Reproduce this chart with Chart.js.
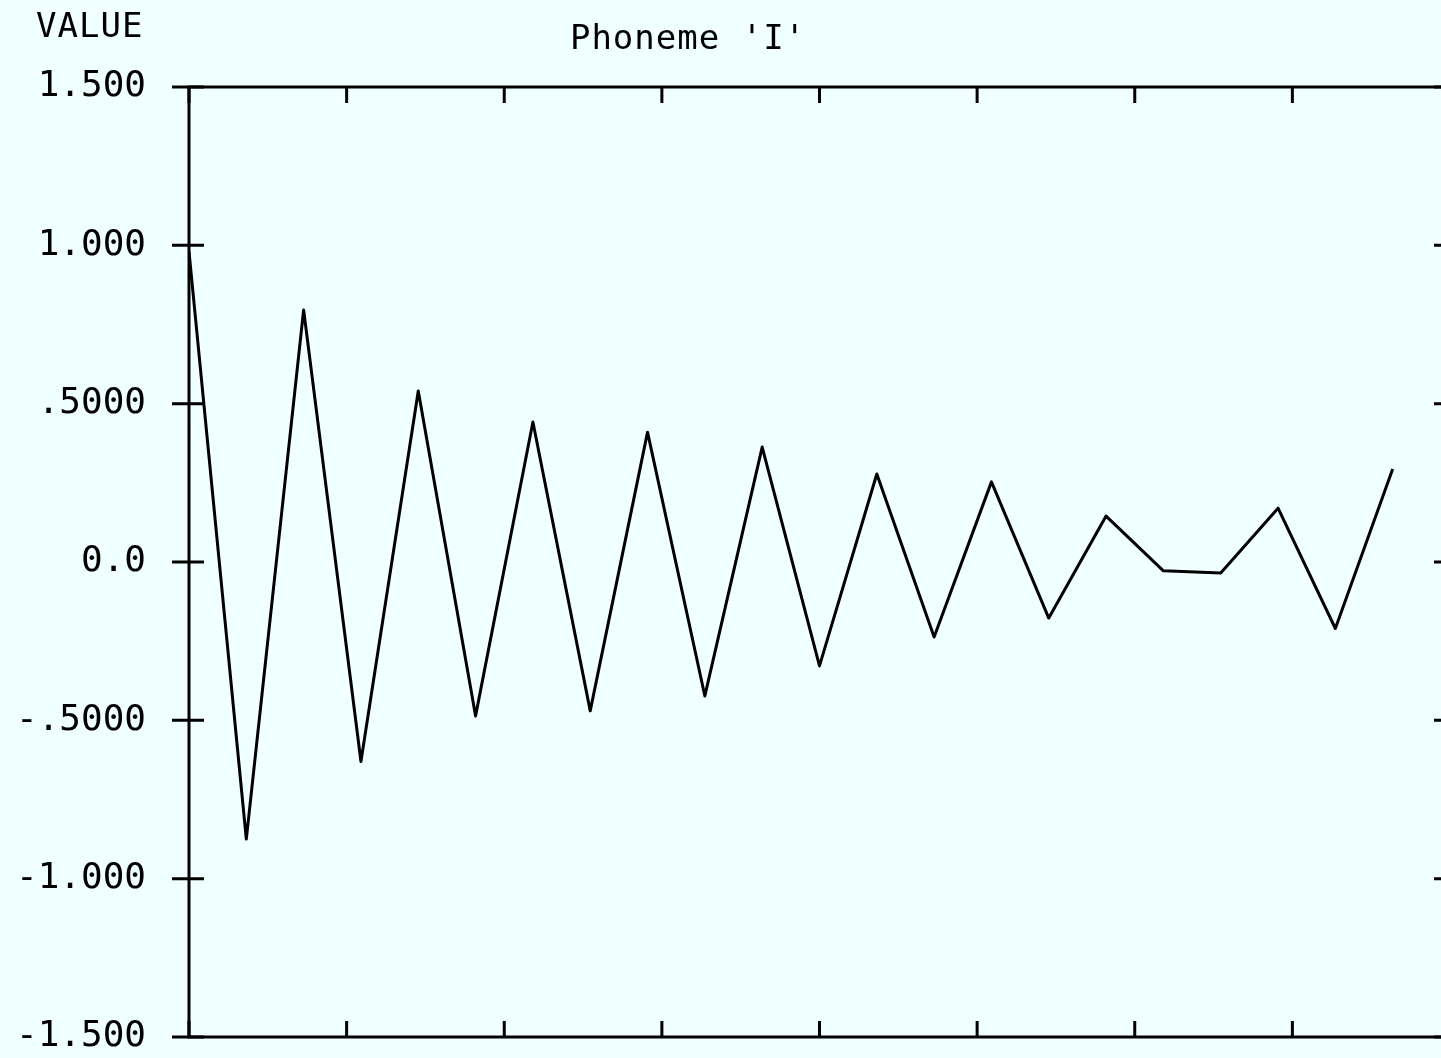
<!DOCTYPE html>
<html>
<head>
<meta charset="utf-8">
<script src="https://cdn.jsdelivr.net/npm/chart.js@4/dist/chart.umd.min.js"></script>
<style>
  html, body { margin: 0; padding: 0; background: #f0ffff; overflow: hidden; }
  #wrap { position: relative; width: 1480px; height: 1058px; }
  canvas { display: block; }
</style>
</head>
<body>
<div id="wrap"><canvas id="c" width="1480" height="1058" style="width:1480px;height:1058px"></canvas></div>
<script>
// ---- data ----
const chartTitle = "Phoneme 'I'";
const yAxisTitle = "VALUE";
const sampleIndex = [0,1,2,3,4,5,6,7,8,9,10,11,12,13,14,15,16,17,18,19,20,21];
const sampleValue = [0.98,-0.875,0.796,-0.63,0.54,-0.486,0.442,-0.47,0.41,-0.423,0.363,
                     -0.328,0.278,-0.237,0.253,-0.177,0.145,-0.028,-0.035,0.17,-0.21,0.294];
const xTickValues = [0, 2.75, 5.5, 8.25, 11, 13.75, 16.5, 19.25, 22];
const yTickValues = [-1.5, -1.0, -0.5, 0.0, 0.5, 1.0, 1.5];
const yTickLabels = ["-1.500", "-1.000", "-.5000", "0.0", ".5000", "1.000", "1.500"];

const FONT = "'DejaVu Sans Mono', 'Liberation Mono', monospace";

const framePlugin = {
  id: 'frame',
  afterDraw(chart) {
    const ctx = chart.ctx;
    const a = chart.chartArea;
    const xs = chart.scales.x, ys = chart.scales.y;
    ctx.save();
    ctx.strokeStyle = '#000';
    ctx.lineWidth = 3;
    ctx.beginPath();
    ctx.rect(a.left, a.top, a.right - a.left, a.bottom - a.top);
    ctx.stroke();
    ctx.beginPath();
    xTickValues.forEach(v => {
      const px = xs.getPixelForValue(v);
      ctx.moveTo(px, a.top); ctx.lineTo(px, a.top + 16);
      ctx.moveTo(px, a.bottom); ctx.lineTo(px, a.bottom - 16);
    });
    yTickValues.forEach(v => {
      const py = ys.getPixelForValue(v);
      ctx.moveTo(a.left - 17, py); ctx.lineTo(a.left + 15, py);
      ctx.moveTo(a.right - 16, py); ctx.lineTo(a.right + 16, py);
    });
    ctx.stroke();
    // texts
    ctx.fillStyle = '#000';
    ctx.font = '34px ' + FONT;
    try { ctx.letterSpacing = '1px'; } catch (e) {}
    ctx.textBaseline = 'alphabetic';
    ctx.textAlign = 'left';
    ctx.fillText(yAxisTitle, 36, 37);
    ctx.textAlign = 'center';
    ctx.fillText(chartTitle, 688, 49);
    ctx.restore();
  }
};

new Chart(document.getElementById('c'), {
  type: 'line',
  data: {
    datasets: [{
      data: sampleIndex.map((x, i) => ({ x: x, y: sampleValue[i] })),
      borderColor: '#000',
      borderWidth: 3,
      borderJoinStyle: 'round',
      pointRadius: 0,
      tension: 0,
      fill: false
    }]
  },
  options: {
    responsive: false,
    animation: false,
    layout: { padding: { left: 0, top: 87, right: 30, bottom: 21 } },
    plugins: { legend: { display: false }, tooltip: { enabled: false }, title: { display: false } },
    scales: {
      x: { type: 'linear', min: 0, max: 22, display: false },
      y: {
        type: 'linear', min: -1.5, max: 1.5,
        afterFit(scale) { scale.width = 189; scale.paddingTop = 0; scale.paddingBottom = 0; },
        afterBuildTicks(scale) { scale.ticks = yTickValues.map(v => ({ value: v })); },
        grid: { display: false },
        border: { display: false },
        ticks: {
          padding: 35,
          color: '#000',
          font: { family: FONT, size: 36 },
          callback: (v) => { const i = yTickValues.indexOf(v); return i >= 0 ? yTickLabels[i] : ''; }
        }
      }
    }
  },
  plugins: [framePlugin]
});
</script>
</body>
</html>
